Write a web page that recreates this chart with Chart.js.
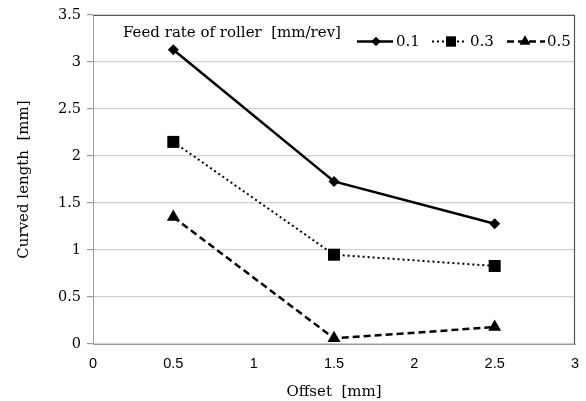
<!DOCTYPE html>
<html><head><meta charset="utf-8">
<script src="https://cdn.jsdelivr.net/npm/chart.js@4/dist/chart.umd.min.js"></script>
<style>html,body{margin:0;padding:0;background:#fff}#wrap{width:586px;height:401px}</style>
</head><body><div id="wrap"><canvas id="c" width="586" height="401"></canvas></div>
<script>
const offsets = [0.5, 1.5, 2.5];
const seriesNames = ['0.1', '0.3', '0.5'];
const feed01 = [3.13, 1.73, 1.28];
const feed03 = [2.15, 0.95, 0.83];
const feed05 = [1.35, 0.06, 0.18];
const xTicks = [0, 0.5, 1, 1.5, 2, 2.5, 3];
const yTicks = [0, 0.5, 1, 1.5, 2, 2.5, 3, 3.5];
const legendTitle = 'Feed rate of roller  [mm/rev]';
const xTitle = 'Offset  [mm]';
const yTitle = 'Curved length  [mm]';

const SERIF = '"DejaVu Serif", "Liberation Serif", serif';
const SANS = '"Liberation Sans", "DejaVu Sans", sans-serif';

function pts(vals){ return offsets.map((x,i)=>({x:x,y:vals[i]})); }

const styles = [
  {dash:[], pointStyle:'rectRot', radius:5.5, width:2.5, lr:4.5},
  {dash:[2,3], pointStyle:'rect', radius:8.5, width:2, lr:7},
  {dash:[7,4], pointStyle:'triangle', radius:7.5, width:2.5, lr:6}
];
const allVals = [feed01, feed03, feed05];

const datasets = allVals.map((v,i)=>({
  label: seriesNames[i],
  data: pts(v),
  borderColor:'#000', backgroundColor:'#000',
  borderWidth: styles[i].width, borderDash: styles[i].dash,
  pointStyle: styles[i].pointStyle, pointRadius: styles[i].radius,
  pointBackgroundColor:'#000', pointBorderColor:'#000', pointBorderWidth:0,
  tension:0, showLine:true
}));

const frameLegend = {
  id:'frameLegend',
  afterDatasetsDraw(chart){
    const {ctx, chartArea:a} = chart;
    ctx.save();
    ctx.strokeStyle='#555'; ctx.lineWidth=1.2;
    ctx.beginPath();
    ctx.moveTo(a.left, a.top+0.5); ctx.lineTo(a.right-0.5, a.top+0.5); ctx.lineTo(a.right-0.5, a.bottom);
    ctx.stroke();
    ctx.fillStyle='#000'; ctx.font='15px '+SERIF; ctx.textBaseline='middle'; ctx.textAlign='left';
    ctx.fillText(legendTitle, a.left+30, 33);
    const items = [{x0:357,x1:393,mx:376,tx:396},{x0:432,x1:467,mx:451,tx:470},{x0:507,x1:545,mx:525,tx:547}];
    const y = 41.5;
    chart.data.datasets.forEach((ds,i)=>{
      const it = items[i];
      ctx.strokeStyle='#000'; ctx.lineWidth=ds.borderWidth; ctx.setLineDash(ds.borderDash);
      ctx.beginPath(); ctx.moveTo(it.x0,y); ctx.lineTo(it.x1,y); ctx.stroke();
      ctx.setLineDash([]);
      ctx.fillStyle='#000';
      Chart.helpers.drawPoint(ctx,{pointStyle:ds.pointStyle, radius: styles[i].lr, borderWidth:0, rotation:0}, it.mx, y);
      ctx.fill();
      ctx.font='15px '+SERIF; ctx.textAlign='left'; ctx.textBaseline='middle';
      ctx.fillText(ds.label, it.tx, y+1);
    });
    ctx.restore();
  }
};

new Chart(document.getElementById('c'), {
  type:'scatter',
  data:{datasets},
  options:{
    responsive:false, animation:false, devicePixelRatio:1,
    layout:{padding:{left:0,right:11,top:15,bottom:0}},
    plugins:{legend:{display:false}, tooltip:{enabled:false}},
    scales:{
      x:{type:'linear', min:0, max:3,
        afterBuildTicks(s){ s.ticks = xTicks.map(v=>({value:v})); },
        afterFit(s){ s.height = 57; },
        grid:{display:false, drawTicks:true, tickLength:6, tickColor:'#999'},
        border:{display:true, color:'#999', width:1},
        ticks:{color:'#000', font:{family:SANS, size:14.5}, padding:5, maxRotation:0,
          callback:(v)=>String(v)},
        title:{display:true, text:xTitle, color:'#000', font:{family:SERIF, size:15}, padding:{top:2,bottom:0}}
      },
      y:{type:'linear', min:0, max:3.5,
        afterBuildTicks(s){ s.ticks = yTicks.map(v=>({value:v})); },
        afterFit(s){ s.width = 93; },
        grid:{display:true, color:'#d0d0d0', lineWidth:1.2, drawTicks:true, tickLength:6, tickColor:'#999'},
        border:{display:true, color:'#999', width:1},
        ticks:{color:'#000', font:{family:SERIF, size:14.5}, padding:6, callback:(v)=>String(v)},
        title:{display:true, text:yTitle, color:'#000', font:{family:SERIF, size:15}, padding:{top:15,bottom:0}}
      }
    }
  },
  plugins:[frameLegend]
});
</script></body></html>
